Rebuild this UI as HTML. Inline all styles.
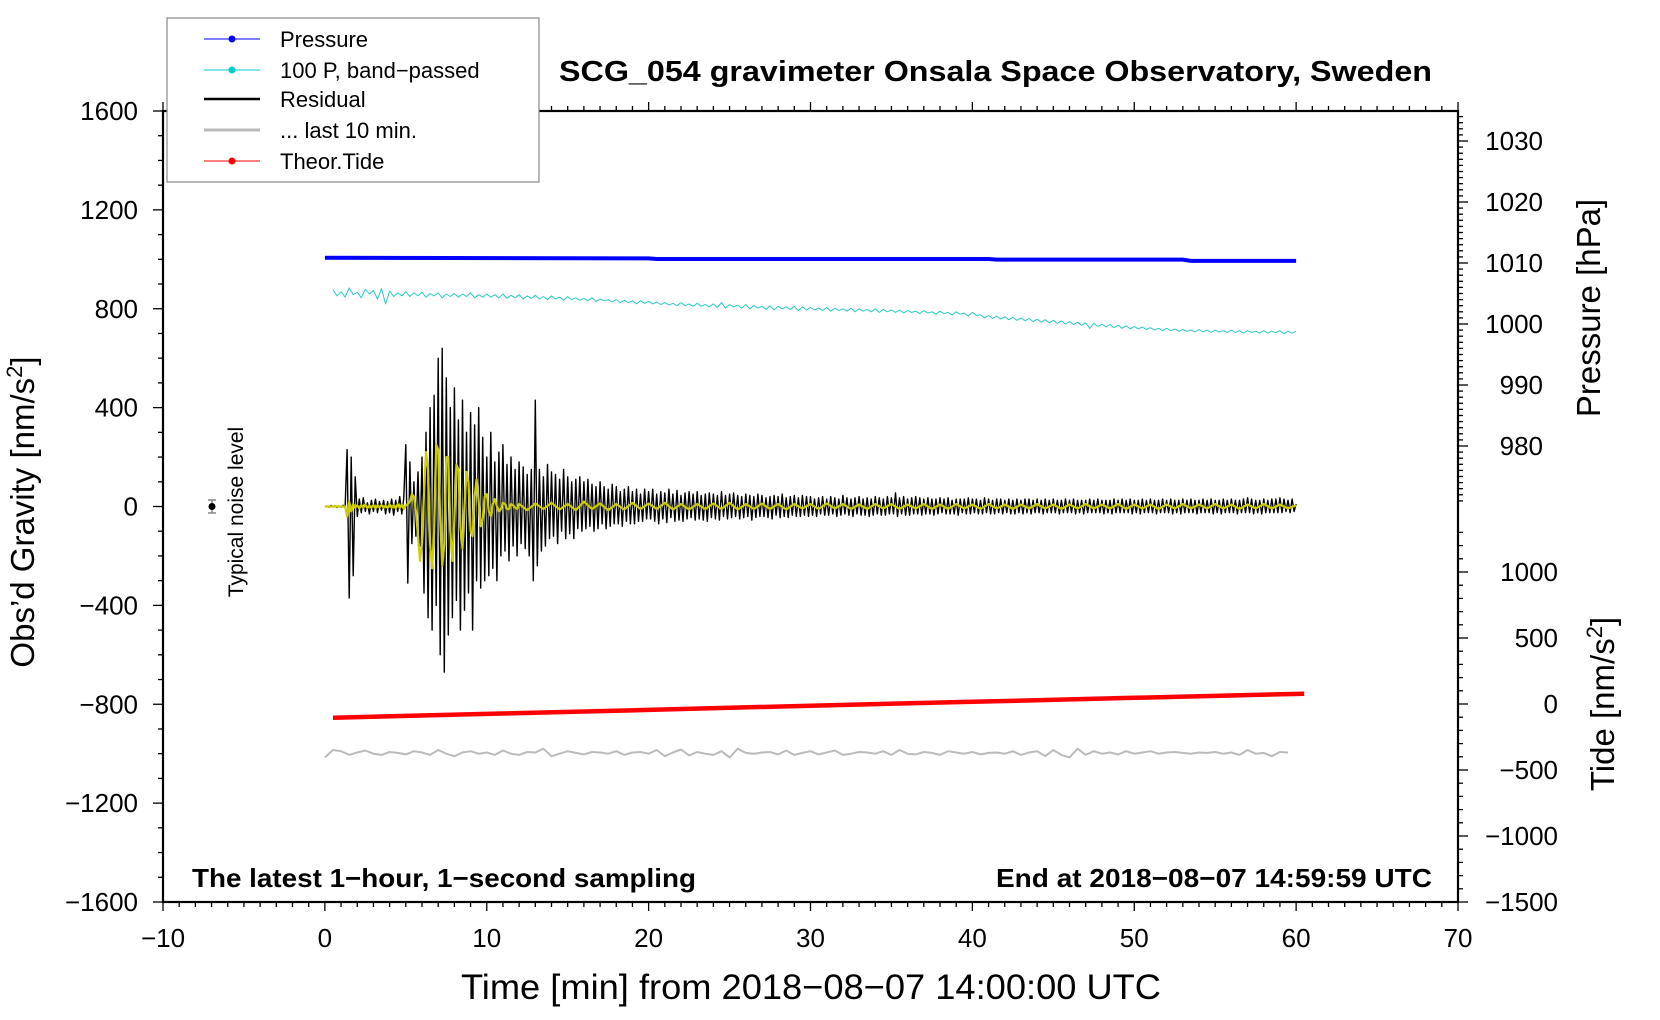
<!DOCTYPE html>
<html><head><meta charset="utf-8"><style>
html,body{margin:0;padding:0;background:#fff}
svg{display:block;font-family:"Liberation Sans",Arial,sans-serif}
</style></head><body>
<svg id="chart" width="1660" height="1020" viewBox="0 0 1660 1020" xmlns="http://www.w3.org/2000/svg">
<rect x="0" y="0" width="1660" height="1020" fill="#fff"/>
<g id="ticks"></g>
<g id="series"></g>
<rect x="163" y="111" width="1295" height="791" fill="none" stroke="#000" stroke-width="2.2"/>
<text x="559" y="81" font-size="29" font-weight="bold" textLength="873" lengthAdjust="spacingAndGlyphs">SCG_054 gravimeter Onsala Space Observatory, Sweden</text>
<text transform="translate(34,512) rotate(-90)" text-anchor="middle" font-size="33">Obs’d Gravity [nm/s<tspan dy="-12" font-size="22">2</tspan><tspan dy="12">]</tspan></text>
<text transform="translate(1600,308) rotate(-90)" text-anchor="middle" font-size="33">Pressure [hPa]</text>
<text transform="translate(1614,704) rotate(-90)" text-anchor="middle" font-size="33">Tide [nm/s<tspan dy="-12" font-size="22">2</tspan><tspan dy="12">]</tspan></text>
<text x="811" y="999" text-anchor="middle" font-size="35" textLength="700" lengthAdjust="spacingAndGlyphs">Time [min] from 2018−08−07 14:00:00 UTC</text>
<text x="192" y="887" font-size="26" font-weight="bold" textLength="504" lengthAdjust="spacingAndGlyphs">The latest 1−hour, 1−second sampling</text>
<text x="996" y="887" font-size="26" font-weight="bold" textLength="436" lengthAdjust="spacingAndGlyphs">End at 2018−08−07 14:59:59 UTC</text>
<text transform="translate(243,512) rotate(-90)" text-anchor="middle" font-size="21">Typical noise level</text>
<g>
<line x1="212" y1="500" x2="212" y2="513" stroke="#888" stroke-width="1.5"/>
<line x1="208" y1="500" x2="216" y2="500" stroke="#888" stroke-width="1.5"/>
<line x1="208" y1="513" x2="216" y2="513" stroke="#888" stroke-width="1.5"/>
<circle cx="212" cy="506.5" r="3.5" fill="#000"/>
</g>
<g>
<rect x="167" y="18" width="372" height="164" fill="#fff" stroke="#888" stroke-width="1.2"/>
<g><line x1="204" y1="39" x2="260" y2="39" stroke="#00f" stroke-width="1"/><circle cx="232" cy="39" r="3.5" fill="#00f"/><text x="280" y="47" font-size="22">Pressure</text></g>
<g><line x1="204" y1="70" x2="260" y2="70" stroke="#0cc" stroke-width="1"/><circle cx="232" cy="70" r="3.5" fill="#0cc"/><text x="280" y="78" font-size="22">100 P, band−passed</text></g>
<g><line x1="204" y1="99" x2="260" y2="99" stroke="#000" stroke-width="2.5"/><text x="280" y="107" font-size="22">Residual</text></g>
<g><line x1="204" y1="130" x2="260" y2="130" stroke="#bbb" stroke-width="3"/><text x="280" y="138" font-size="22">... last 10 min.</text></g>
<g><line x1="204" y1="161" x2="260" y2="161" stroke="#f00" stroke-width="1"/><circle cx="232" cy="161" r="3.5" fill="#f00"/><text x="280" y="169" font-size="22">Theor.Tide</text></g>
</g>
</svg>
<script>
const residDt = 0.125;
const residV = [0,2,-3,4,-2,3,-4,2,-3,5,-4,
230,-370,200,-280,120,
-40,30,-25,35,-20,15,-30,25,-20,30,-25,20,-15,25,-30,20,-25,30,-35,25,-20,40,-30,35,
250,-310,180,-150,100,-120,140,-160,
200,-350,300,-450,400,-500,450,-400,
600,-600,640,-670,520,-520,400,-450,
480,-380,350,-500,430,-420,300,-350,
380,-500,330,-300,400,-330,280,-300,
200,-280,300,-250,180,-300,220,-200,
250,-180,170,-220,200,-160,150,-200,
180,-150,160,-170,130,-200,150,-300,
430,-240,150,-180,120,-160,170,-130,
140,-120,130,-150,110,-100,150,-130,120,-110,100,-130,110,-90,120,-100,
100,-90,110,-80,90,-100,80,-90,100,-70,80,-90,70,-80,90,-70,80,-70,60,-80,70,-60,80,-70,60,-70,70,-60,50,-60,70,-50,
60,-50,70,-60,50,-70,60,-50,55,-65,70,-45,50,-60,65,-55,45,-60,55,-50,
60,-45,50,-55,60,-50,45,-55,50,-60,55,-45,50,-50,45,-55,60,-40,45,-50,
50,-45,55,-40,45,-50,40,-45,50,-40,45,-55,40,-45,50,-40,45,-40,35,-45,
40,-50,45,-35,40,-45,50,-40,35,-45,40,-35,45,-40,35,-40,45,-35,40,-40,
40,-35,30,-40,35,-30,40,-35,30,-35,40,-30,35,-40,30,-35,45,-30,35,-35,
30,-40,35,-30,40,-35,30,-35,35,-40,30,-35,40,-30,35,-35,30,-35,40,-30,
35,-30,55,-40,35,-30,40,-35,30,-35,35,-30,40,-30,35,-35,30,-30,35,-30,
30,-35,30,-30,35,-25,30,-30,35,-30,25,-30,30,-35,30,-25,30,-30,35,-30,
30,-25,30,-30,25,-30,35,-25,30,-30,25,-30,30,-25,30,-30,25,-25,30,-30,
25,-30,30,-25,25,-30,30,-25,30,-30,25,-25,30,-25,25,-30,30,-25,25,-25,
30,-25,25,-30,25,-25,30,-25,25,-25,30,-30,25,-25,25,-30,25,-25,30,-25,
25,-25,30,-25,25,-30,25,-25,25,-30,30,-25,25,-25,30,-25,25,-25,30,-30,
25,-25,25,-30,30,-25,25,-25,30,-25,25,-30,25,-25,30,-25,25,-25,30,-30,
25,-25,25,-30,30,-25,25,-25,30,-25,25,-30,25,-25,30,-25,25,-25,30,-30,
25,-25,25,-30,30,-25,25,-25,30,-25,25,-30,25,-25,30,-25,35,-25,30,-30,
25,-25,25,-30,30,-25,25,-25,30,-25,30,-25,35,-25,30,-20,25,-25,30,-20,
10];
const yellowEarlyDt = 0.125;
const yellowEarlyV = [0,0,0,0,0,0,0,0,0,0,0,
-40,20,-20,10,-5,
5,-8,6,-5,8,-6,4,-5,6,-8,5,-4,6,-5,4,-6,8,-5,6,-8,10,-6,8,-10,
5,10,20,50,40,-20,-120,-220,
-150,50,220,150,-150,-250,-100,250,
230,-50,-240,-150,200,200,-100,-220,
-50,170,150,-80,-170,0,140,100,
-100,-120,40,110,20,-80,-50,40,
50,-20,-40,10,30,0,-20,-10,15,10,-10,-10,10,5,-5,-10];
const yellowLateStart = 12, yellowLateDt = 0.5;
const yellowLateV = [10,-15,12,-10,15,-12,10,-15,20,-10,12,-15,10,-12,15,-10,12,-10,15,-12,
10,-12,10,-10,12,-10,15,-12,10,-10,12,-10,10,-12,10,-8,10,-10,12,-8,
10,-10,8,-10,10,-8,10,-10,8,-8,10,-10,8,-10,10,-8,8,-10,10,-8,
8,-10,8,-8,10,-8,8,-10,8,-8,10,-8,8,-8,10,-10,8,-8,8,-10,
8,-8,10,-8,8,-8,10,-8,8,-10,8,-8,10,-8,8,-8,5];
const cyanStart = 0.5, cyanDt = 0.25;
const cyanV = [1005.6,1004.6,1005.3,1004.4,1005.9,1004.8,1005.2,1004.3,1005.7,1004.9,1005.5,1004.1,1005.8,1003.3,1005.4,1004.5,1005.1,1004.6,1005.3,1004.5,
1005.1,1004.6,1005.2,1004.4,1005.0,1004.6,1005.1,1004.3,1004.9,1004.5,1005.0,1004.4,1004.9,1004.5,1005.1,1004.3,1004.8,1004.4,1004.9,1004.4,
1004.8,1004.3,1004.9,1004.2,1004.7,1004.3,1004.8,1004.1,1004.6,1004.2,1004.7,1004.1,1004.5,1004.0,1004.6,1004.1,1004.4,1003.9,1004.5,1004.0,
1004.3,1003.9,1004.2,1003.8,1004.3,1003.7,1004.1,1003.8,1004.0,1003.6,1004.0,1003.5,1003.9,1003.5,1003.8,1003.3,1003.8,1003.4,1003.7,1003.3,
1003.6,1003.2,1003.5,1003.1,1003.4,1003.0,1003.5,1003.0,1003.3,1002.9,1003.4,1002.9,1003.2,1002.8,1003.3,1002.7,1003.5,1002.6,1003.2,1002.8,
1003.1,1002.6,1003.2,1002.5,1003.0,1002.6,1002.9,1002.4,1003.0,1002.3,1002.9,1002.5,1002.8,1002.4,1002.9,1002.2,1002.8,1002.3,1002.7,1002.3,
1002.6,1002.2,1002.7,1002.1,1002.6,1002.2,1002.5,1002.1,1002.6,1002.0,1002.5,1002.1,1002.4,1002.0,1002.5,1001.9,1002.4,1002.0,1002.3,1001.9,
1002.3,1001.8,1002.2,1001.9,1002.1,1001.7,1002.2,1001.8,1002.0,1001.6,1002.1,1001.7,1001.9,1001.5,1002.0,1001.6,1001.8,1001.3,1001.9,1001.4,
1001.5,1001.0,1001.4,1000.9,1001.3,1000.8,1001.2,1000.7,1001.1,1000.6,1001.0,1000.5,1000.9,1000.4,1000.8,1000.3,1000.7,1000.2,1000.6,1000.1,
1000.5,1000.0,1000.4,999.9,1000.3,999.8,1000.2,999.3,1000.1,999.6,1000.0,999.5,999.9,999.4,999.8,999.3,999.7,999.2,999.6,999.2,
999.5,999.1,999.4,999.0,999.3,998.9,999.3,998.9,999.2,998.8,999.1,998.8,999.0,998.7,999.1,998.7,999.0,998.6,999.0,998.7,
998.9,998.6,999.0,998.6,998.9,998.5,998.9,998.6,998.8,998.5,998.9,998.5,998.8,998.6,998.9,998.4,998.8,998.5,998.8];
const grayDt = 0.5;
const grayV = [-1015,-985,-990,-1005,-995,-987,-1000,-1005,-993,-997,-1003,-990,-995,-1005,-985,-1000,-1010,-995,-990,-1000,
-995,-1005,-987,-1000,-1005,-993,-995,-980,-1010,-1000,-990,-997,-1003,-993,-995,-1000,-990,-1005,-995,-993,
-1000,-985,-1010,-995,-983,-1007,-993,-1000,-1005,-990,-1015,-980,-997,-1000,-995,-993,-1003,-987,-1005,-997,
-990,-1003,-995,-987,-1005,-1000,-993,-995,-1000,-990,-1005,-985,-1000,-1003,-993,-997,-1005,-990,-995,-1000,
-993,-1003,-997,-995,-1000,-990,-1005,-995,-990,-1010,-985,-1005,-1015,-980,-1005,-990,-1000,-995,-1003,-990,
-1000,-995,-990,-1000,-995,-993,-997,-1000,-995,-997,-993,-1000,-995,-1005,-985,-1000,-997,-1010,-993,-995];
const pressT = [0,20,20.5,41,41.5,53,53.5,60];
const pressV = [1010.85,1010.75,1010.65,1010.65,1010.55,1010.55,1010.35,1010.35];
const tideT = [0.5,10,20,30,40,50,60.5];
const tideV = [-104,-75,-45,-13,17,47,78];
const xTicks = [-10,0,10,20,30,40,50,60,70];
const gTicks = [1600,1200,800,400,0,-400,-800,-1200,-1600];
const pTicks = [1030,1020,1010,1000,990,980];
const tTicks = [1000,500,0,-500,-1000,-1500];

const NS = "http://www.w3.org/2000/svg";
const X = t => 163 + (t + 10) * (1295 / 80);
const YG = v => 506.5 - v * (791 / 3200);
const YP = p => 141 - (p - 1030) * 6.1;
const YT = v => 704 - v * 0.132;
const tickG = document.getElementById('ticks');
const serG = document.getElementById('series');
function el(tag, attrs, parent) {
  const e = document.createElementNS(NS, tag);
  for (const k in attrs) e.setAttribute(k, attrs[k]);
  parent.appendChild(e); return e;
}
function line(x1, y1, x2, y2, w) { return el('line', {x1, y1, x2, y2, stroke: '#000', 'stroke-width': w}, tickG); }
function label(x, y, txt, anchor) { const t = el('text', {x, y, 'font-size': 26, 'text-anchor': anchor}, tickG); t.textContent = txt; return t; }
const fmt = v => String(v).replace('-', '−');
for (let m = -10; m <= 70; m++) {
  const major = m % 10 === 0;
  line(X(m), 902, X(m), 902 + (major ? 9 : 5), 1.3);
  line(X(m), 111, X(m), 111 - (major ? 9 : 5), 1.3);
}
xTicks.forEach(v => {
  const t = label(X(v), 947, fmt(v), 'middle');
  
  
});
for (let v = -1600; v <= 1600; v += 100) {
  const major = v % 400 === 0;
  line(163, YG(v), 163 - (major ? 10 : 5), YG(v), 1.3);
}
gTicks.forEach(v => {
  const t = label(138, YG(v) + 9, fmt(v), 'end');
  
  
});
for (let p = 1035; p >= 970; p--) {
  const y = YP(p); if (y < 112 || y > 505) continue;
  line(1458, y, 1458 + (p % 10 === 0 ? 10 : 5), y, 1.3);
}
pTicks.forEach(v => {
  const t = label(1543, YP(v) + 9, fmt(v), 'end');
  
  
});
for (let v = -1500; v <= 1400; v += 100) {
  const y = YT(v); if (y < 525) continue;
  line(1458, y, 1458 + (v % 500 === 0 ? 10 : 5), y, 1.3);
}
tTicks.forEach(v => {
  const t = label(1558, YT(v) + 9, fmt(v), 'end');
  
  
});
function poly(pts, color, w, name) {
  const p = el('polyline', {points: pts.map(q => q[0].toFixed(1) + ',' + q[1].toFixed(1)).join(' '), fill: 'none', stroke: color, 'stroke-width': w, 'stroke-linejoin': 'round'}, serG);
  
  
  return p;
}
poly(grayV.map((v, i) => [X(i * grayDt), YG(v)]), '#bbb', 2, 'last-10-min-line');
poly(pressV.map((v, i) => [X(pressT[i]), YP(v)]), '#0000ff', 4, 'pressure-line');
poly(cyanV.map((v, i) => [X(cyanStart + i * cyanDt), YP(v)]), '#2cc8c8', 1, 'bandpassed-pressure-line');
poly(residV.map((v, i) => [X(i * residDt), YG(v)]), '#000', 1.4, 'residual-line');
const yellowPts = yellowEarlyV.map((v, i) => [X(i * yellowEarlyDt), YG(v)]).concat(yellowLateV.map((v, i) => [X(yellowLateStart + i * yellowLateDt), YG(v)]));
poly(yellowPts, '#cccc00', 2.2, 'filtered-residual-line');
poly(tideV.map((v, i) => [X(tideT[i]), YT(v)]), '#ff0000', 4.5, 'tide-line');
</script>
</body></html>
